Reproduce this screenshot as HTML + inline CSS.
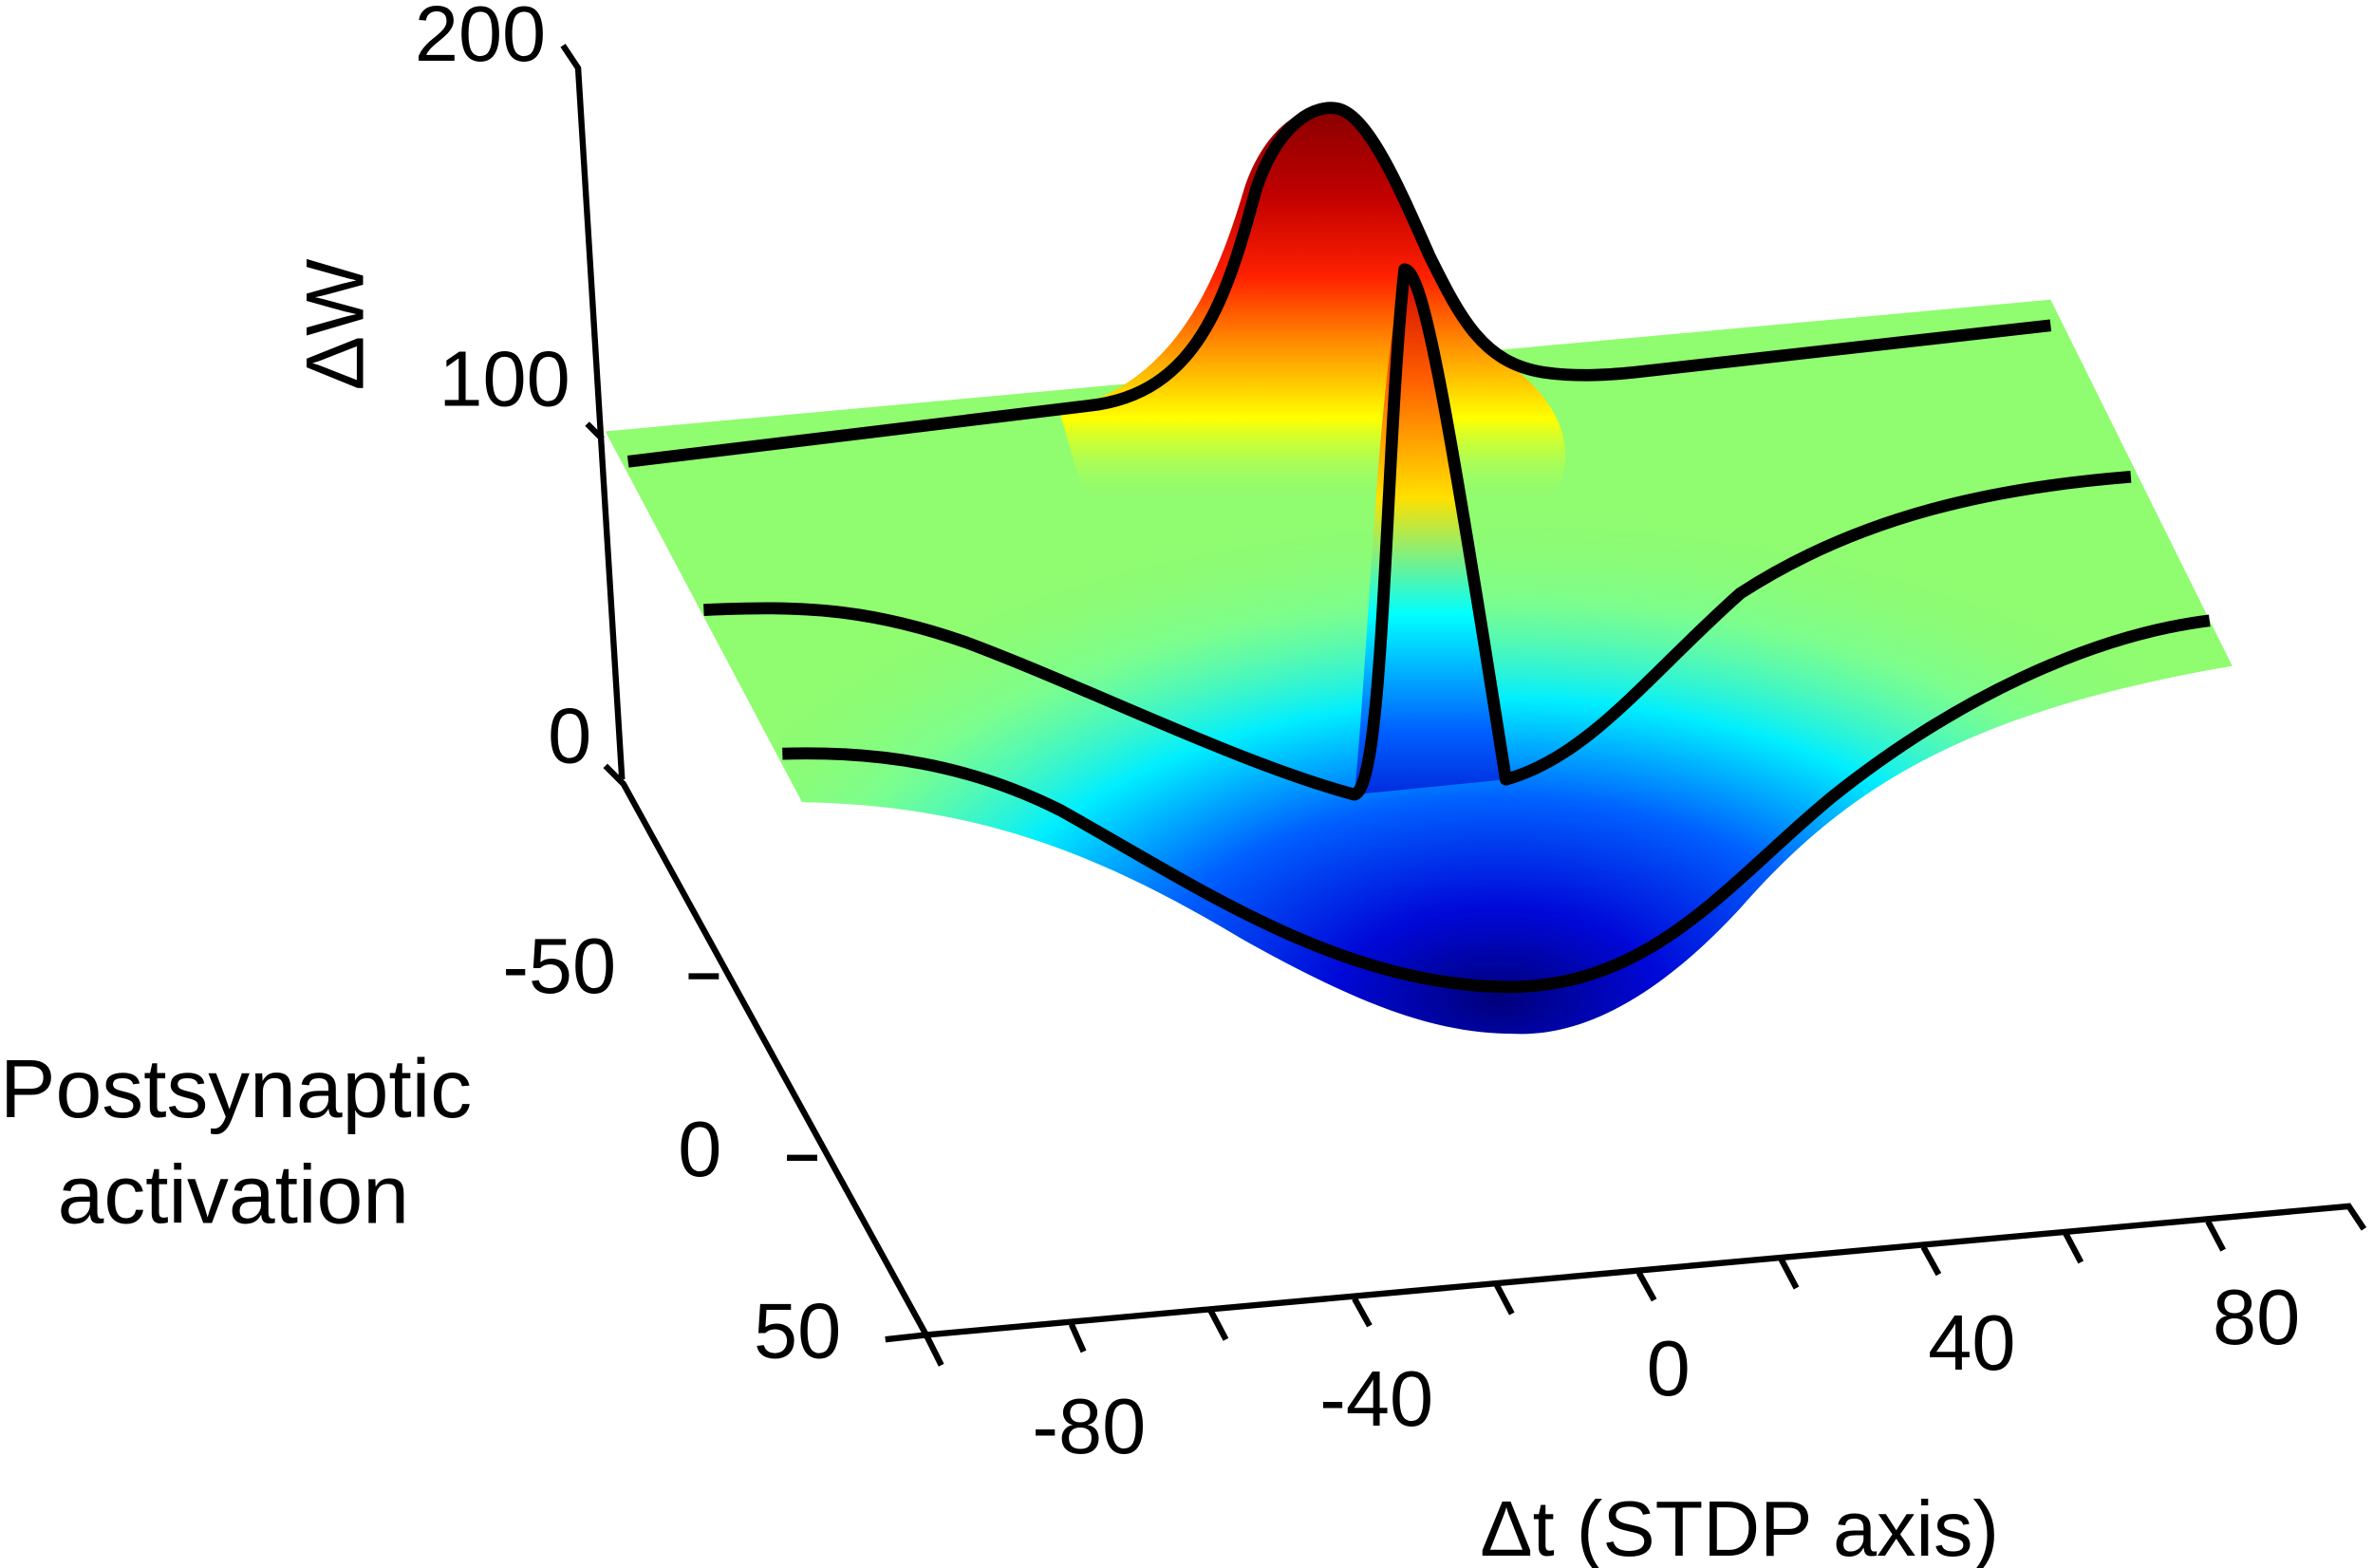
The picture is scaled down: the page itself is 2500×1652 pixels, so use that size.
<!DOCTYPE html>
<html><head><meta charset="utf-8"><style>
html,body{margin:0;padding:0;background:#fff}
svg{display:block}
text{font-family:"Liberation Sans",sans-serif;fill:#000}
</style></head><body>
<svg width="2500" height="1652" viewBox="0 0 1568 1036" preserveAspectRatio="none" xmlns="http://www.w3.org/2000/svg">
<defs>
<radialGradient id="dip" cx="990" cy="660" r="600" gradientUnits="userSpaceOnUse" gradientTransform="translate(990 660) scale(1 0.55) translate(-990 -660)">
<stop offset="0" stop-color="#00007a"/>
<stop offset="0.18" stop-color="#0008d8"/>
<stop offset="0.4" stop-color="#0060ff"/>
<stop offset="0.6" stop-color="#00eeff"/>
<stop offset="0.8" stop-color="#70ffa0" stop-opacity="0.6"/>
<stop offset="1" stop-color="#90fc70" stop-opacity="0"/>
</radialGradient>
<linearGradient id="hill" x1="0" y1="62" x2="0" y2="330" gradientUnits="userSpaceOnUse">
<stop offset="0" stop-color="#800000"/>
<stop offset="0.25" stop-color="#c00000"/>
<stop offset="0.45" stop-color="#ff2000"/>
<stop offset="0.62" stop-color="#ff9000"/>
<stop offset="0.8" stop-color="#ffff00"/>
<stop offset="1" stop-color="#a0ff60" stop-opacity="0"/>
</linearGradient>
<linearGradient id="spike" x1="0" y1="175" x2="0" y2="560" gradientUnits="userSpaceOnUse">
<stop offset="0" stop-color="#d00000"/>
<stop offset="0.2" stop-color="#ff6000"/>
<stop offset="0.4" stop-color="#ffe000"/>
<stop offset="0.6" stop-color="#00ffff"/>
<stop offset="0.8" stop-color="#0060ff"/>
<stop offset="1" stop-color="#0000c0"/>
</linearGradient>
</defs>
<path d="M400,285 L1355,198 L1475,440 C1300,470 1220,520 1150,600 C1090,665 1040,685 1000,683 C950,683 900,665 820,620 C720,560 640,532 530,530 Z" fill="#90fc70"/>
<path d="M400,285 L1355,198 L1475,440 C1300,470 1220,520 1150,600 C1090,665 1040,685 1000,683 C950,683 900,665 820,620 C720,560 640,532 530,530 Z" fill="url(#dip)"/>
<path d="M700,272 C770,255 800,200 822,125 C838,75 880,52 905,92 C935,140 955,210 990,236 C1030,262 1050,300 1020,340 L720,340 Z" fill="url(#hill)"/>
<path d="M895,525 C905,420 910,250 928,175 C950,190 975,400 995,515 Z" fill="url(#spike)"/>
<g fill="none" stroke="#000" stroke-width="8" stroke-linejoin="round">
<path d="M415,305 L720,268 C790,260 810,200 830,125 C845,80 870,68 885,72 C905,78 925,125 945,170 C965,210 980,240 1020,246 C1040,249 1060,248 1080,246 L1355,215"/>
<path d="M465,403 C530,400 575,402 640,425 C720,455 820,505 895,525 C915,520 915,300 928,178 C940,178 955,260 995,515 C1050,500 1090,445 1150,392 C1230,340 1320,322 1408,315"/>
<path d="M517,498 C580,496 640,505 700,535 C790,585 880,648 990,652 C1090,655 1140,585 1210,527 C1290,463 1380,420 1460,410"/>
</g>
<g stroke="#000" stroke-width="4" fill="none">
<path d="M372,30 L382,45 L411,515"/>
<path d="M388,280 L398,290"/>
<path d="M400,506 L412,518 L612,882"/>
<path d="M455,645 L475,645 M520,765 L540,765"/>
<path d="M585,885 L612,882 L1552,797 L1562,812"/>
<path d="M612,882 L622,902 M708,875 L716,893 M800,866 L810,885 M895,858 L905,876 M989,849 L999,868 M1083,841 L1093,859 M1177,832 L1187,851 M1271,824 L1281,842 M1365,815 L1375,834 M1459,807 L1469,826"/>
</g>
<g font-size="52">
<text x="274" y="40">200</text>
<text x="290" y="268">100</text>
<text x="362" y="504">0</text>
<text x="240" y="258" transform="rotate(-90 240 258)" font-size="54">ΔW</text>
<text x="332" y="656">-50</text>
<text x="448" y="777">0</text>
<text x="498" y="897">50</text>
<text x="0" y="738" font-size="55">Postsynaptic</text>
<text x="38" y="808" font-size="55">activation</text>
<text x="682" y="960">-80</text>
<text x="872" y="942">-40</text>
<text x="1088" y="922">0</text>
<text x="1274" y="905">40</text>
<text x="1462" y="888">80</text>
<text x="978" y="1028" font-size="52">Δt (STDP axis)</text>
</g>
</svg>
</body></html>
